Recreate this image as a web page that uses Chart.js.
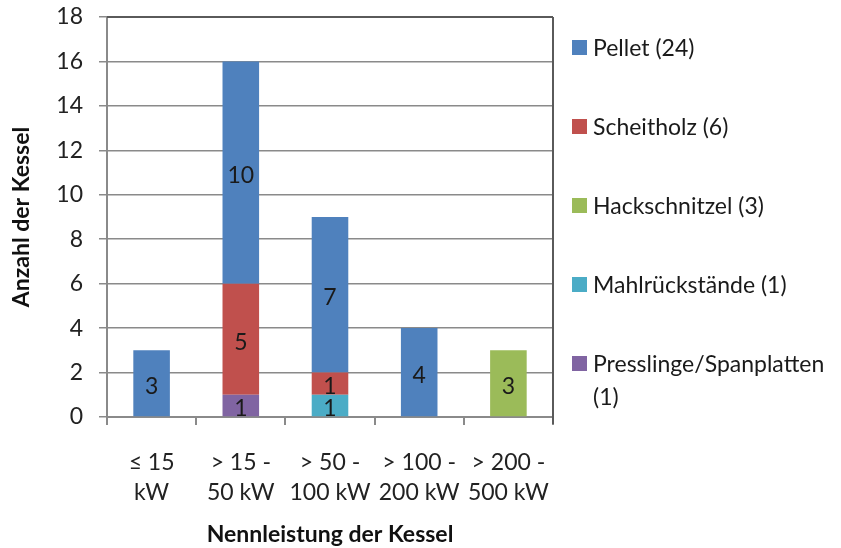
<!DOCTYPE html>
<html>
<head>
<meta charset="utf-8">
<script src="https://cdn.jsdelivr.net/npm/chart.js@4.4.1/dist/chart.umd.min.js"></script>
<style>
  html, body { margin: 0; padding: 0; background: #fff; }
  #wrap { width: 841px; height: 548px; }
</style>
</head>
<body>
<div id="wrap"><canvas id="myChart" width="841" height="548"></canvas></div>
<script>
// categories (x axis), two lines each
var categories = [['≤ 15', 'kW'], ['> 15 -', '50 kW'], ['> 50 -', '100 kW'], ['> 100 -', '200 kW'], ['> 200 -', '500 kW']];

// series, in stacking order bottom -> top
var presslinge = [null, 1, null, null, null];
var mahl = [null, null, 1, null, null];
var scheitholz = [null, 5, 1, null, null];
var pellet = [3, 10, 7, 4, null];
var hackschnitzel = [null, null, null, null, 3];

var seriesNames = ['Presslinge/Spanplatten (1)', 'Mahlrückstände (1)', 'Scheitholz (6)', 'Pellet (24)', 'Hackschnitzel (3)'];
var seriesColors = ['#8064A2', '#4BACC6', '#C0504D', '#4F81BD', '#9BBB59'];
var legendOrder = [3, 2, 4, 1, 0];

var yTicks = [0, 2, 4, 6, 8, 10, 12, 14, 16, 18];

var FONT = 'Lato, "Open Sans", sans-serif';
var FS = 23;

var valueLabels = {
  id: 'valueLabels',
  afterDatasetsDraw: function (chart) {
    var ctx = chart.ctx;
    ctx.save();
    ctx.font = FS + 'px ' + FONT;
    ctx.fillStyle = '#1a1a1a';
    ctx.textAlign = 'center';
    ctx.textBaseline = 'middle';
    chart.data.datasets.forEach(function (ds, i) {
      var meta = chart.getDatasetMeta(i);
      meta.data.forEach(function (bar, j) {
        if (ds.data[j] == null) return;
        var y = (bar.y + bar.base) / 2;
        ctx.fillText(String(ds.data[j]), bar.x, y + 3);
      });
    });
    ctx.restore();
  }
};

var frame = {
  id: 'frame',
  afterDraw: function (chart) {
    var a = chart.chartArea;
    var ctx = chart.ctx;
    ctx.save();
    ctx.strokeStyle = '#5a5a5a';
    ctx.lineWidth = 2;
    ctx.beginPath();
    ctx.moveTo(a.left, a.top);
    ctx.lineTo(a.right, a.top);
    ctx.moveTo(a.right, a.top);
    ctx.lineTo(a.right, a.bottom + 7);
    ctx.stroke();
    ctx.restore();
  }
};

var sideLegend = {
  id: 'sideLegend',
  afterDraw: function (chart) {
    var ctx = chart.ctx;
    var a = chart.chartArea;
    ctx.save();
    ctx.font = FS + 'px ' + FONT;
    ctx.textBaseline = 'middle';
    ctx.textAlign = 'left';
    var boxX = a.right + 19, textX = a.right + 40, maxW = 841 - textX - 2;
    var y = a.top + 31;
    legendOrder.forEach(function (idx) {
      var ds = chart.data.datasets[idx];
      ctx.fillStyle = ds.backgroundColor;
      ctx.fillRect(boxX, y - 8, 15, 15);
      ctx.fillStyle = '#1a1a1a';
      var words = ds.label.split(' ');
      var line = '', lines = [];
      words.forEach(function (w) {
        var test = line ? line + ' ' + w : w;
        if (ctx.measureText(test).width > maxW && line) { lines.push(line); line = w; }
        else line = test;
      });
      lines.push(line);
      lines.forEach(function (l, k) { ctx.fillText(l, textX, y + 1 + k * 33); });
      y += 79;
    });
    ctx.restore();
  }
};

var ctx = document.getElementById('myChart');
var myChart = new Chart(ctx, {
  type: 'bar',
  data: {
    labels: categories,
    datasets: [presslinge, mahl, scheitholz, pellet, hackschnitzel].map(function (d, i) {
      return {
        label: seriesNames[i],
        data: d,
        backgroundColor: seriesColors[i],
        borderWidth: 0,
        barPercentage: 1,
        categoryPercentage: 0.41
      };
    })
  },
  options: {
    responsive: false,
    animation: false,
    layout: { padding: { top: 17, right: 288, left: 0, bottom: 0 } },
    plugins: {
      legend: { display: false },
      tooltip: { enabled: false }
    },
    scales: {
      x: {
        stacked: true,
        afterFit: function (axis) { axis.height = 131; axis.paddingLeft = 0; axis.paddingRight = 0; },
        grid: { drawOnChartArea: false, offset: true, color: '#8a8a8a', tickLength: 8, lineWidth: 2 },
        border: { color: '#8a8a8a', width: 2 },
        ticks: { font: { family: FONT, size: FS, lineHeight: 30 / FS }, color: '#222', padding: 23, maxRotation: 0 },
        title: { display: true, text: 'Nennleistung der Kessel', font: { family: FONT, size: FS, weight: 'bold' }, color: '#111', padding: { top: 0, bottom: 0 } }
      },
      y: {
        stacked: true,
        min: 0,
        max: 18,
        afterFit: function (axis) { axis.width = 107; axis.paddingTop = 0; axis.paddingBottom = 0; },
        afterBuildTicks: function (axis) { axis.ticks = yTicks.map(function (v) { return { value: v }; }); },
        grid: { color: '#8a8a8a', tickLength: 8, lineWidth: 1.5 },
        border: { color: '#8a8a8a', width: 2 },
        ticks: { font: { family: FONT, size: FS }, color: '#222', padding: 16 },
        title: { display: true, text: 'Anzahl der Kessel', font: { family: FONT, size: FS, weight: 'bold' }, color: '#111', padding: { top: 8, bottom: 0 } }
      }
    }
  },
  plugins: [valueLabels, frame, sideLegend]
});
</script>
</body>
</html>
